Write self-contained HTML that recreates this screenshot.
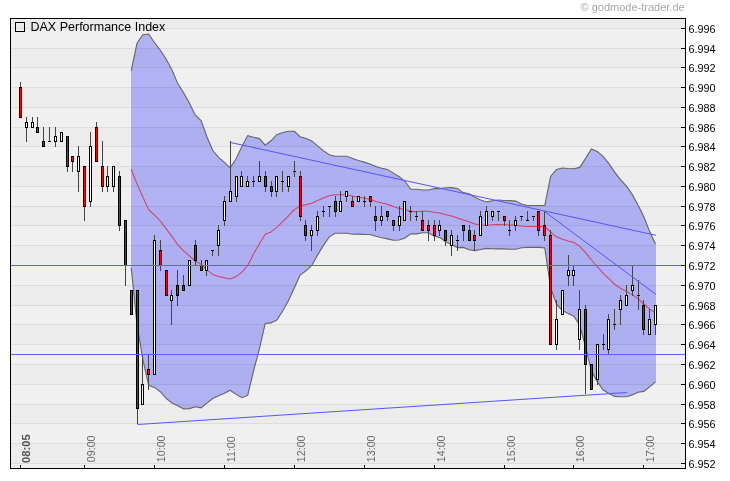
<!DOCTYPE html><html><head><meta charset="utf-8"><title>DAX Performance Index</title>
<style>html,body{margin:0;padding:0;background:#fff;width:730px;height:481px;overflow:hidden}svg{display:block;will-change:transform}text{font-family:"Liberation Sans",Arial,sans-serif}.t{opacity:0.999}</style></head><body>
<svg width="730" height="481" viewBox="0 0 730 481">
<rect x="0" y="0" width="730" height="481" fill="#fff"/>
<rect x="11" y="19" width="674" height="449" fill="#f0f0f0"/>
<polygon points="131.0,70.9 137.0,43.3 142.8,34.8 148.7,34.0 154.5,42.7 160.3,50.2 166.1,59.0 172.0,70.1 177.8,83.6 183.6,92.8 189.4,103.1 195.3,115.2 201.1,120.6 206.9,136.7 212.7,150.3 218.6,157.4 224.4,162.3 230.2,167.9 236.1,158.8 241.9,146.6 247.7,135.6 253.5,137.2 259.4,138.6 265.2,145.2 271.0,140.8 276.8,134.7 282.7,132.5 288.5,131.2 294.3,131.3 300.1,136.7 306.0,138.6 311.8,140.9 317.6,145.9 323.4,150.6 329.3,154.7 335.1,156.2 340.9,156.2 346.7,156.2 352.6,158.4 358.4,160.5 364.2,162.1 370.0,163.9 375.9,166.6 381.7,168.2 387.5,169.4 393.3,173.1 399.2,176.7 405.0,181.3 410.8,189.3 416.6,189.3 422.5,190.0 428.3,190.0 434.1,188.5 440.0,188.6 445.8,187.8 451.6,187.6 457.4,188.5 463.3,192.6 469.1,193.7 474.9,197.3 480.7,199.9 486.6,201.9 492.4,200.7 498.2,200.0 504.0,200.5 509.9,200.6 515.7,201.1 521.5,204.0 527.3,205.5 533.2,205.5 539.0,205.5 544.8,205.4 550.6,176.5 556.5,169.4 562.3,168.0 568.1,168.5 573.9,168.8 579.8,167.4 585.6,158.4 591.4,148.9 597.2,151.5 603.1,156.3 608.9,163.7 614.7,172.1 620.5,179.7 626.4,186.2 632.2,194.4 638.0,205.0 643.8,216.7 649.7,231.6 656.0,244.0 656.0,381.8 649.7,386.8 643.8,391.4 638.0,392.2 632.2,394.9 626.4,396.7 620.5,396.7 614.7,396.4 608.9,393.5 603.1,390.0 597.2,381.4 591.4,371.1 585.6,346.8 579.8,325.5 573.9,316.2 568.1,313.6 562.3,310.6 556.5,304.2 550.6,287.8 544.8,247.9 539.0,247.4 533.2,247.4 527.3,247.4 521.5,247.8 515.7,249.3 509.9,249.3 504.0,248.9 498.2,248.9 492.4,248.7 486.6,248.4 480.7,249.5 474.9,250.6 469.1,249.7 463.3,247.4 457.4,247.6 451.6,244.5 445.8,241.9 440.0,237.6 434.1,236.1 428.3,232.7 422.5,232.7 416.6,233.9 410.8,233.9 405.0,237.9 399.2,240.0 393.3,240.2 387.5,238.9 381.7,237.7 375.9,236.3 370.0,234.5 364.2,234.4 358.4,234.1 352.6,234.2 346.7,233.3 340.9,233.3 335.1,233.3 329.3,236.9 323.4,245.4 317.6,255.0 311.8,265.4 306.0,270.8 300.1,275.1 294.3,288.0 288.5,300.4 282.7,311.0 276.8,320.1 271.0,322.9 265.2,323.5 259.4,348.8 253.5,371.0 247.7,395.4 241.9,397.7 236.1,394.4 230.2,390.2 224.4,393.3 218.6,395.8 212.7,398.5 206.9,403.1 201.1,407.9 195.3,406.8 189.4,408.6 183.6,409.0 177.8,405.8 172.0,403.1 166.1,398.3 160.3,391.7 154.5,387.4 148.7,385.3 142.8,359.3 137.0,324.5 131.0,267.7" fill="#b0b2f4" stroke="none"/>
<polyline points="131.2,70.9 137.0,43.3 142.8,34.8 148.7,34.0 154.5,42.7 160.3,50.2 166.1,59.0 172.0,70.1 177.8,83.6 183.6,92.8 189.4,103.1 195.3,115.2 201.1,120.6 206.9,136.7 212.7,150.3 218.6,157.4 224.4,162.3 230.2,167.9 236.1,158.8 241.9,146.6 247.7,135.6 253.5,137.2 259.4,138.6 265.2,145.2 271.0,140.8 276.8,134.7 282.7,132.5 288.5,131.2 294.3,131.3 300.1,136.7 306.0,138.6 311.8,140.9 317.6,145.9 323.4,150.6 329.3,154.7 335.1,156.2 340.9,156.2 346.7,156.2 352.6,158.4 358.4,160.5 364.2,162.1 370.0,163.9 375.9,166.6 381.7,168.2 387.5,169.4 393.3,173.1 399.2,176.7 405.0,181.3 410.8,189.3 416.6,189.3 422.5,190.0 428.3,190.0 434.1,188.5 440.0,188.6 445.8,187.8 451.6,187.6 457.4,188.5 463.3,192.6 469.1,193.7 474.9,197.3 480.7,199.9 486.6,201.9 492.4,200.7 498.2,200.0 504.0,200.5 509.9,200.6 515.7,201.1 521.5,204.0 527.3,205.5 533.2,205.5 539.0,205.5 544.8,205.4 550.6,176.5 556.5,169.4 562.3,168.0 568.1,168.5 573.9,168.8 579.8,167.4 585.6,158.4 591.4,148.9 597.2,151.5 603.1,156.3 608.9,163.7 614.7,172.1 620.5,179.7 626.4,186.2 632.2,194.4 638.0,205.0 643.8,216.7 649.7,231.6 655.5,244.0" fill="none" stroke="#666666" stroke-width="1.1"/>
<polyline points="131.2,267.7 137.0,324.5 142.8,359.3 148.7,385.3 154.5,387.4 160.3,391.7 166.1,398.3 172.0,403.1 177.8,405.8 183.6,409.0 189.4,408.6 195.3,406.8 201.1,407.9 206.9,403.1 212.7,398.5 218.6,395.8 224.4,393.3 230.2,390.2 236.1,394.4 241.9,397.7 247.7,395.4 253.5,371.0 259.4,348.8 265.2,323.5 271.0,322.9 276.8,320.1 282.7,311.0 288.5,300.4 294.3,288.0 300.1,275.1 306.0,270.8 311.8,265.4 317.6,255.0 323.4,245.4 329.3,236.9 335.1,233.3 340.9,233.3 346.7,233.3 352.6,234.2 358.4,234.1 364.2,234.4 370.0,234.5 375.9,236.3 381.7,237.7 387.5,238.9 393.3,240.2 399.2,240.0 405.0,237.9 410.8,233.9 416.6,233.9 422.5,232.7 428.3,232.7 434.1,236.1 440.0,237.6 445.8,241.9 451.6,244.5 457.4,247.6 463.3,247.4 469.1,249.7 474.9,250.6 480.7,249.5 486.6,248.4 492.4,248.7 498.2,248.9 504.0,248.9 509.9,249.3 515.7,249.3 521.5,247.8 527.3,247.4 533.2,247.4 539.0,247.4 544.8,247.9 550.6,287.8 556.5,304.2 562.3,310.6 568.1,313.6 573.9,316.2 579.8,325.5 585.6,346.8 591.4,371.1 597.2,381.4 603.1,390.0 608.9,393.5 614.7,396.4 620.5,396.7 626.4,396.7 632.2,394.9 638.0,392.2 643.8,391.4 649.7,386.8 655.5,381.8" fill="none" stroke="#666666" stroke-width="1.1"/>
<g shape-rendering="crispEdges" fill="rgba(0,0,0,0.0167)">
<rect x="11" y="19" width="674" height="9"/>
<rect x="11" y="49" width="674" height="18"/>
<rect x="11" y="88" width="674" height="19"/>
<rect x="11" y="128" width="674" height="18"/>
<rect x="11" y="167" width="674" height="19"/>
<rect x="11" y="207" width="674" height="18"/>
<rect x="11" y="246" width="674" height="19"/>
<rect x="11" y="286" width="674" height="19"/>
<rect x="11" y="325" width="674" height="19"/>
<rect x="11" y="365" width="674" height="19"/>
<rect x="11" y="405" width="674" height="18"/>
<rect x="11" y="444" width="674" height="19"/>
</g>
<g shape-rendering="crispEdges" fill="rgba(0,0,0,0.0770)">
<rect x="11" y="28" width="670" height="1"/>
<rect x="11" y="48" width="670" height="1"/>
<rect x="11" y="67" width="670" height="1"/>
<rect x="11" y="87" width="670" height="1"/>
<rect x="11" y="107" width="670" height="1"/>
<rect x="11" y="127" width="670" height="1"/>
<rect x="11" y="146" width="670" height="1"/>
<rect x="11" y="166" width="670" height="1"/>
<rect x="11" y="186" width="670" height="1"/>
<rect x="11" y="206" width="670" height="1"/>
<rect x="11" y="225" width="670" height="1"/>
<rect x="11" y="245" width="670" height="1"/>
<rect x="11" y="265" width="670" height="1"/>
<rect x="11" y="285" width="670" height="1"/>
<rect x="11" y="305" width="670" height="1"/>
<rect x="11" y="324" width="670" height="1"/>
<rect x="11" y="344" width="670" height="1"/>
<rect x="11" y="364" width="670" height="1"/>
<rect x="11" y="384" width="670" height="1"/>
<rect x="11" y="404" width="670" height="1"/>
<rect x="11" y="423" width="670" height="1"/>
<rect x="11" y="443" width="670" height="1"/>
<rect x="11" y="463" width="670" height="1"/>
</g>
<polyline points="131.2,169.3 137.0,183.9 142.8,197.0 148.7,209.6 154.5,215.1 160.3,221.0 166.1,228.6 172.0,236.6 177.8,244.7 183.6,250.9 189.4,255.8 195.3,261.0 201.1,264.2 206.9,269.9 212.7,274.4 218.6,276.6 224.4,277.8 230.2,279.1 236.1,276.6 241.9,272.1 247.7,265.5 253.5,254.1 259.4,243.7 265.2,234.3 271.0,231.9 276.8,227.4 282.7,221.7 288.5,215.8 294.3,209.6 300.1,205.9 306.0,204.7 311.8,203.2 317.6,200.5 323.4,198.0 329.3,195.8 335.1,194.8 340.9,194.8 346.7,194.8 352.6,196.3 358.4,197.3 364.2,198.2 370.0,199.2 375.9,201.5 381.7,202.9 387.5,204.2 393.3,206.6 399.2,208.4 405.0,209.6 410.8,211.6 416.6,211.6 422.5,211.3 428.3,211.3 434.1,212.3 440.0,213.1 445.8,214.8 451.6,216.0 457.4,218.0 463.3,220.0 469.1,221.7 474.9,223.9 480.7,224.7 486.6,225.2 492.4,224.7 498.2,224.4 504.0,224.7 509.9,224.9 515.7,225.2 521.5,225.9 527.3,226.4 533.2,226.4 539.0,226.4 544.8,226.7 550.6,232.1 556.5,236.8 562.3,239.3 568.1,241.0 573.9,242.5 579.8,246.4 585.6,252.6 591.4,260.0 597.2,266.5 603.1,273.1 608.9,278.6 614.7,284.3 620.5,288.2 626.4,291.4 632.2,294.6 638.0,298.6 643.8,304.0 649.7,309.2 655.5,312.9" fill="none" stroke="#d43f60" stroke-width="1.05" stroke-linejoin="round"/>
<g shape-rendering="crispEdges">
<rect x="20" y="82" width="1" height="36" fill="#444444"/>
<rect x="19" y="87" width="3" height="31" fill="#000"/>
<rect x="20" y="88" width="1" height="29" fill="#ff0000"/>
<rect x="26" y="117" width="1" height="25" fill="#444444"/>
<rect x="25" y="122" width="3" height="6" fill="#000"/>
<rect x="26" y="123" width="1" height="4" fill="#fff"/>
<rect x="32" y="117" width="1" height="11" fill="#444444"/>
<rect x="31" y="122" width="3" height="6" fill="#000"/>
<rect x="32" y="123" width="1" height="4" fill="#fff"/>
<rect x="37" y="117" width="1" height="16" fill="#444444"/>
<rect x="36" y="127" width="3" height="6" fill="#000"/>
<rect x="37" y="128" width="1" height="4" fill="#ff0000"/>
<rect x="43" y="127" width="1" height="20" fill="#444444"/>
<rect x="42" y="141" width="3" height="6" fill="#000"/>
<rect x="43" y="142" width="1" height="4" fill="#ff0000"/>
<rect x="49" y="127" width="1" height="15" fill="#444444"/>
<rect x="48" y="141" width="3" height="1" fill="#000"/>
<rect x="55" y="127" width="1" height="20" fill="#444444"/>
<rect x="54" y="136" width="3" height="6" fill="#000"/>
<rect x="55" y="137" width="1" height="4" fill="#fff"/>
<rect x="61" y="132" width="1" height="10" fill="#444444"/>
<rect x="60" y="132" width="3" height="10" fill="#000"/>
<rect x="61" y="133" width="1" height="8" fill="#fff"/>
<rect x="67" y="136" width="1" height="36" fill="#444444"/>
<rect x="66" y="136" width="3" height="31" fill="#000"/>
<rect x="67" y="137" width="1" height="29" fill="#ff0000"/>
<rect x="72" y="156" width="1" height="16" fill="#444444"/>
<rect x="71" y="156" width="3" height="6" fill="#000"/>
<rect x="72" y="157" width="1" height="4" fill="#ff0000"/>
<rect x="78" y="146" width="1" height="46" fill="#444444"/>
<rect x="77" y="156" width="3" height="16" fill="#000"/>
<rect x="78" y="157" width="1" height="14" fill="#fff"/>
<rect x="84" y="166" width="1" height="55" fill="#444444"/>
<rect x="83" y="166" width="3" height="41" fill="#000"/>
<rect x="84" y="167" width="1" height="39" fill="#ff0000"/>
<rect x="90" y="132" width="1" height="75" fill="#444444"/>
<rect x="89" y="146" width="3" height="56" fill="#000"/>
<rect x="90" y="147" width="1" height="54" fill="#fff"/>
<rect x="96" y="122" width="1" height="40" fill="#444444"/>
<rect x="95" y="127" width="3" height="35" fill="#000"/>
<rect x="96" y="128" width="1" height="33" fill="#ff0000"/>
<rect x="102" y="141" width="1" height="51" fill="#444444"/>
<rect x="101" y="166" width="3" height="21" fill="#000"/>
<rect x="102" y="167" width="1" height="19" fill="#ff0000"/>
<rect x="107" y="166" width="1" height="26" fill="#444444"/>
<rect x="106" y="176" width="3" height="11" fill="#000"/>
<rect x="107" y="177" width="1" height="9" fill="#fff"/>
<rect x="113" y="166" width="1" height="26" fill="#444444"/>
<rect x="112" y="166" width="3" height="21" fill="#000"/>
<rect x="113" y="167" width="1" height="19" fill="#fff"/>
<rect x="119" y="171" width="1" height="60" fill="#444444"/>
<rect x="118" y="176" width="3" height="50" fill="#000"/>
<rect x="119" y="177" width="1" height="48" fill="#ff0000"/>
<rect x="125" y="220" width="1" height="66" fill="#444444"/>
<rect x="124" y="220" width="3" height="46" fill="#000"/>
<rect x="125" y="221" width="1" height="44" fill="#ff0000"/>
<rect x="131" y="290" width="1" height="25" fill="#444444"/>
<rect x="130" y="290" width="3" height="25" fill="#000"/>
<rect x="131" y="291" width="1" height="23" fill="#ff0000"/>
<rect x="137" y="290" width="1" height="134" fill="#444444"/>
<rect x="136" y="290" width="3" height="119" fill="#000"/>
<rect x="137" y="291" width="1" height="117" fill="#ff0000"/>
<rect x="142" y="354" width="1" height="51" fill="#444444"/>
<rect x="141" y="384" width="3" height="21" fill="#000"/>
<rect x="142" y="385" width="1" height="19" fill="#fff"/>
<rect x="148" y="354" width="1" height="36" fill="#444444"/>
<rect x="147" y="369" width="3" height="6" fill="#000"/>
<rect x="148" y="370" width="1" height="4" fill="#ff0000"/>
<rect x="154" y="235" width="1" height="140" fill="#444444"/>
<rect x="153" y="240" width="3" height="135" fill="#000"/>
<rect x="154" y="241" width="1" height="133" fill="#fff"/>
<rect x="160" y="240" width="1" height="31" fill="#444444"/>
<rect x="159" y="250" width="3" height="16" fill="#000"/>
<rect x="160" y="251" width="1" height="14" fill="#ff0000"/>
<rect x="166" y="270" width="1" height="26" fill="#444444"/>
<rect x="165" y="270" width="3" height="26" fill="#000"/>
<rect x="166" y="271" width="1" height="24" fill="#ff0000"/>
<rect x="171" y="290" width="1" height="35" fill="#444444"/>
<rect x="170" y="295" width="3" height="6" fill="#000"/>
<rect x="171" y="296" width="1" height="4" fill="#fff"/>
<rect x="177" y="270" width="1" height="36" fill="#444444"/>
<rect x="176" y="285" width="3" height="11" fill="#000"/>
<rect x="177" y="286" width="1" height="9" fill="#ff0000"/>
<rect x="183" y="275" width="1" height="16" fill="#444444"/>
<rect x="182" y="285" width="3" height="6" fill="#000"/>
<rect x="183" y="286" width="1" height="4" fill="#ff0000"/>
<rect x="189" y="260" width="1" height="26" fill="#444444"/>
<rect x="188" y="260" width="3" height="26" fill="#000"/>
<rect x="189" y="261" width="1" height="24" fill="#fff"/>
<rect x="195" y="240" width="1" height="26" fill="#444444"/>
<rect x="194" y="245" width="3" height="16" fill="#000"/>
<rect x="195" y="246" width="1" height="14" fill="#ff0000"/>
<rect x="201" y="260" width="1" height="11" fill="#444444"/>
<rect x="200" y="265" width="3" height="6" fill="#000"/>
<rect x="201" y="266" width="1" height="4" fill="#ff0000"/>
<rect x="206" y="260" width="1" height="16" fill="#444444"/>
<rect x="205" y="260" width="3" height="11" fill="#000"/>
<rect x="206" y="261" width="1" height="9" fill="#fff"/>
<rect x="212" y="250" width="1" height="6" fill="#444444"/>
<rect x="211" y="250" width="3" height="1" fill="#000"/>
<rect x="218" y="225" width="1" height="31" fill="#444444"/>
<rect x="217" y="230" width="3" height="16" fill="#000"/>
<rect x="218" y="231" width="1" height="14" fill="#fff"/>
<rect x="224" y="196" width="1" height="30" fill="#444444"/>
<rect x="223" y="201" width="3" height="20" fill="#000"/>
<rect x="224" y="202" width="1" height="18" fill="#fff"/>
<rect x="230" y="141" width="1" height="61" fill="#444444"/>
<rect x="229" y="191" width="3" height="11" fill="#000"/>
<rect x="230" y="192" width="1" height="9" fill="#fff"/>
<rect x="236" y="176" width="1" height="26" fill="#444444"/>
<rect x="235" y="176" width="3" height="21" fill="#000"/>
<rect x="236" y="177" width="1" height="19" fill="#fff"/>
<rect x="241" y="171" width="1" height="16" fill="#444444"/>
<rect x="240" y="176" width="3" height="11" fill="#000"/>
<rect x="241" y="177" width="1" height="9" fill="#fff"/>
<rect x="247" y="176" width="1" height="11" fill="#444444"/>
<rect x="246" y="181" width="3" height="6" fill="#000"/>
<rect x="247" y="182" width="1" height="4" fill="#fff"/>
<rect x="253" y="176" width="1" height="11" fill="#444444"/>
<rect x="252" y="181" width="3" height="1" fill="#000"/>
<rect x="259" y="161" width="1" height="21" fill="#444444"/>
<rect x="258" y="176" width="3" height="6" fill="#000"/>
<rect x="259" y="177" width="1" height="4" fill="#fff"/>
<rect x="265" y="171" width="1" height="21" fill="#444444"/>
<rect x="264" y="176" width="3" height="11" fill="#000"/>
<rect x="265" y="177" width="1" height="9" fill="#ff0000"/>
<rect x="271" y="181" width="1" height="16" fill="#444444"/>
<rect x="270" y="186" width="3" height="6" fill="#000"/>
<rect x="271" y="187" width="1" height="4" fill="#ff0000"/>
<rect x="276" y="176" width="1" height="21" fill="#444444"/>
<rect x="275" y="176" width="3" height="16" fill="#000"/>
<rect x="276" y="177" width="1" height="14" fill="#fff"/>
<rect x="282" y="171" width="1" height="21" fill="#444444"/>
<rect x="281" y="181" width="3" height="1" fill="#000"/>
<rect x="288" y="176" width="1" height="16" fill="#444444"/>
<rect x="287" y="176" width="3" height="11" fill="#000"/>
<rect x="288" y="177" width="1" height="9" fill="#fff"/>
<rect x="294" y="161" width="1" height="16" fill="#444444"/>
<rect x="293" y="171" width="3" height="1" fill="#000"/>
<rect x="300" y="171" width="1" height="50" fill="#444444"/>
<rect x="299" y="176" width="3" height="41" fill="#000"/>
<rect x="300" y="177" width="1" height="39" fill="#ff0000"/>
<rect x="305" y="220" width="1" height="21" fill="#444444"/>
<rect x="304" y="225" width="3" height="11" fill="#000"/>
<rect x="305" y="226" width="1" height="9" fill="#ff0000"/>
<rect x="311" y="225" width="1" height="26" fill="#444444"/>
<rect x="310" y="230" width="3" height="6" fill="#000"/>
<rect x="311" y="231" width="1" height="4" fill="#fff"/>
<rect x="317" y="211" width="1" height="25" fill="#444444"/>
<rect x="316" y="216" width="3" height="15" fill="#000"/>
<rect x="317" y="217" width="1" height="13" fill="#fff"/>
<rect x="323" y="206" width="1" height="11" fill="#444444"/>
<rect x="322" y="211" width="3" height="1" fill="#000"/>
<rect x="329" y="206" width="1" height="11" fill="#444444"/>
<rect x="328" y="206" width="3" height="1" fill="#000"/>
<rect x="335" y="196" width="1" height="21" fill="#444444"/>
<rect x="334" y="201" width="3" height="11" fill="#000"/>
<rect x="335" y="202" width="1" height="9" fill="#ff0000"/>
<rect x="340" y="191" width="1" height="21" fill="#444444"/>
<rect x="339" y="201" width="3" height="11" fill="#000"/>
<rect x="340" y="202" width="1" height="9" fill="#fff"/>
<rect x="346" y="191" width="1" height="11" fill="#444444"/>
<rect x="345" y="191" width="3" height="6" fill="#000"/>
<rect x="346" y="192" width="1" height="4" fill="#fff"/>
<rect x="352" y="196" width="1" height="11" fill="#444444"/>
<rect x="351" y="201" width="3" height="6" fill="#000"/>
<rect x="352" y="202" width="1" height="4" fill="#ff0000"/>
<rect x="358" y="196" width="1" height="6" fill="#444444"/>
<rect x="357" y="196" width="3" height="6" fill="#000"/>
<rect x="358" y="197" width="1" height="4" fill="#fff"/>
<rect x="364" y="196" width="1" height="11" fill="#444444"/>
<rect x="363" y="201" width="3" height="1" fill="#000"/>
<rect x="370" y="196" width="1" height="11" fill="#444444"/>
<rect x="369" y="196" width="3" height="6" fill="#000"/>
<rect x="370" y="197" width="1" height="4" fill="#ff0000"/>
<rect x="375" y="206" width="1" height="25" fill="#444444"/>
<rect x="374" y="216" width="3" height="5" fill="#000"/>
<rect x="375" y="217" width="1" height="3" fill="#ff0000"/>
<rect x="381" y="206" width="1" height="20" fill="#444444"/>
<rect x="380" y="216" width="3" height="5" fill="#000"/>
<rect x="381" y="217" width="1" height="3" fill="#fff"/>
<rect x="387" y="211" width="1" height="10" fill="#444444"/>
<rect x="386" y="211" width="3" height="6" fill="#000"/>
<rect x="387" y="212" width="1" height="4" fill="#ff0000"/>
<rect x="393" y="220" width="1" height="11" fill="#444444"/>
<rect x="392" y="220" width="3" height="6" fill="#000"/>
<rect x="393" y="221" width="1" height="4" fill="#ff0000"/>
<rect x="399" y="206" width="1" height="25" fill="#444444"/>
<rect x="398" y="216" width="3" height="10" fill="#000"/>
<rect x="399" y="217" width="1" height="8" fill="#fff"/>
<rect x="404" y="201" width="1" height="20" fill="#444444"/>
<rect x="403" y="201" width="3" height="20" fill="#000"/>
<rect x="404" y="202" width="1" height="18" fill="#fff"/>
<rect x="410" y="206" width="1" height="15" fill="#444444"/>
<rect x="409" y="211" width="3" height="1" fill="#000"/>
<rect x="416" y="211" width="1" height="10" fill="#444444"/>
<rect x="415" y="216" width="3" height="1" fill="#000"/>
<rect x="422" y="211" width="1" height="20" fill="#444444"/>
<rect x="421" y="220" width="3" height="11" fill="#000"/>
<rect x="422" y="221" width="1" height="9" fill="#ff0000"/>
<rect x="428" y="220" width="1" height="21" fill="#444444"/>
<rect x="427" y="225" width="3" height="6" fill="#000"/>
<rect x="428" y="226" width="1" height="4" fill="#ff0000"/>
<rect x="434" y="220" width="1" height="21" fill="#444444"/>
<rect x="433" y="225" width="3" height="11" fill="#000"/>
<rect x="434" y="226" width="1" height="9" fill="#ff0000"/>
<rect x="439" y="220" width="1" height="16" fill="#444444"/>
<rect x="438" y="225" width="3" height="6" fill="#000"/>
<rect x="439" y="226" width="1" height="4" fill="#fff"/>
<rect x="445" y="230" width="1" height="16" fill="#444444"/>
<rect x="444" y="230" width="3" height="11" fill="#000"/>
<rect x="445" y="231" width="1" height="9" fill="#ff0000"/>
<rect x="451" y="230" width="1" height="26" fill="#444444"/>
<rect x="450" y="235" width="3" height="11" fill="#000"/>
<rect x="451" y="236" width="1" height="9" fill="#fff"/>
<rect x="457" y="235" width="1" height="16" fill="#444444"/>
<rect x="456" y="240" width="3" height="1" fill="#000"/>
<rect x="463" y="225" width="1" height="16" fill="#444444"/>
<rect x="462" y="225" width="3" height="6" fill="#000"/>
<rect x="463" y="226" width="1" height="4" fill="#ff0000"/>
<rect x="469" y="225" width="1" height="16" fill="#444444"/>
<rect x="468" y="230" width="3" height="11" fill="#000"/>
<rect x="469" y="231" width="1" height="9" fill="#ff0000"/>
<rect x="474" y="230" width="1" height="21" fill="#444444"/>
<rect x="473" y="235" width="3" height="6" fill="#000"/>
<rect x="474" y="236" width="1" height="4" fill="#ff0000"/>
<rect x="480" y="211" width="1" height="25" fill="#444444"/>
<rect x="479" y="216" width="3" height="20" fill="#000"/>
<rect x="480" y="217" width="1" height="18" fill="#fff"/>
<rect x="486" y="206" width="1" height="20" fill="#444444"/>
<rect x="485" y="211" width="3" height="15" fill="#000"/>
<rect x="486" y="212" width="1" height="13" fill="#fff"/>
<rect x="492" y="211" width="1" height="10" fill="#444444"/>
<rect x="491" y="211" width="3" height="6" fill="#000"/>
<rect x="492" y="212" width="1" height="4" fill="#fff"/>
<rect x="498" y="211" width="1" height="10" fill="#444444"/>
<rect x="497" y="211" width="3" height="1" fill="#000"/>
<rect x="504" y="216" width="1" height="10" fill="#444444"/>
<rect x="503" y="216" width="3" height="5" fill="#000"/>
<rect x="504" y="217" width="1" height="3" fill="#ff0000"/>
<rect x="509" y="220" width="1" height="16" fill="#444444"/>
<rect x="508" y="230" width="3" height="1" fill="#000"/>
<rect x="515" y="216" width="1" height="15" fill="#444444"/>
<rect x="514" y="220" width="3" height="6" fill="#000"/>
<rect x="515" y="221" width="1" height="4" fill="#fff"/>
<rect x="521" y="216" width="1" height="5" fill="#444444"/>
<rect x="520" y="216" width="3" height="1" fill="#000"/>
<rect x="527" y="211" width="1" height="10" fill="#444444"/>
<rect x="526" y="220" width="3" height="1" fill="#000"/>
<rect x="533" y="216" width="1" height="5" fill="#444444"/>
<rect x="532" y="216" width="3" height="1" fill="#000"/>
<rect x="538" y="211" width="1" height="25" fill="#444444"/>
<rect x="537" y="211" width="3" height="20" fill="#000"/>
<rect x="538" y="212" width="1" height="18" fill="#ff0000"/>
<rect x="544" y="211" width="1" height="30" fill="#444444"/>
<rect x="543" y="225" width="3" height="11" fill="#000"/>
<rect x="544" y="226" width="1" height="9" fill="#ff0000"/>
<rect x="550" y="230" width="1" height="115" fill="#444444"/>
<rect x="549" y="235" width="3" height="110" fill="#000"/>
<rect x="550" y="236" width="1" height="108" fill="#ff0000"/>
<rect x="556" y="300" width="1" height="50" fill="#444444"/>
<rect x="555" y="319" width="3" height="26" fill="#000"/>
<rect x="556" y="320" width="1" height="24" fill="#fff"/>
<rect x="562" y="290" width="1" height="25" fill="#444444"/>
<rect x="561" y="290" width="3" height="25" fill="#000"/>
<rect x="562" y="291" width="1" height="23" fill="#fff"/>
<rect x="568" y="255" width="1" height="31" fill="#444444"/>
<rect x="567" y="270" width="3" height="6" fill="#000"/>
<rect x="568" y="271" width="1" height="4" fill="#fff"/>
<rect x="573" y="265" width="1" height="21" fill="#444444"/>
<rect x="572" y="270" width="3" height="6" fill="#000"/>
<rect x="573" y="271" width="1" height="4" fill="#fff"/>
<rect x="579" y="290" width="1" height="60" fill="#444444"/>
<rect x="578" y="309" width="3" height="31" fill="#000"/>
<rect x="579" y="310" width="1" height="29" fill="#fff"/>
<rect x="585" y="305" width="1" height="89" fill="#444444"/>
<rect x="584" y="309" width="3" height="56" fill="#000"/>
<rect x="585" y="310" width="1" height="54" fill="#ff0000"/>
<rect x="591" y="364" width="1" height="26" fill="#444444"/>
<rect x="590" y="364" width="3" height="26" fill="#000"/>
<rect x="591" y="365" width="1" height="24" fill="#ff0000"/>
<rect x="597" y="344" width="1" height="41" fill="#444444"/>
<rect x="596" y="344" width="3" height="36" fill="#000"/>
<rect x="597" y="345" width="1" height="34" fill="#fff"/>
<rect x="603" y="334" width="1" height="16" fill="#444444"/>
<rect x="602" y="344" width="3" height="1" fill="#000"/>
<rect x="608" y="314" width="1" height="41" fill="#444444"/>
<rect x="607" y="319" width="3" height="31" fill="#000"/>
<rect x="608" y="320" width="1" height="29" fill="#fff"/>
<rect x="614" y="309" width="1" height="21" fill="#444444"/>
<rect x="613" y="324" width="3" height="1" fill="#000"/>
<rect x="620" y="295" width="1" height="30" fill="#444444"/>
<rect x="619" y="300" width="3" height="10" fill="#000"/>
<rect x="620" y="301" width="1" height="8" fill="#fff"/>
<rect x="626" y="285" width="1" height="21" fill="#444444"/>
<rect x="625" y="295" width="3" height="11" fill="#000"/>
<rect x="626" y="296" width="1" height="9" fill="#fff"/>
<rect x="632" y="265" width="1" height="31" fill="#444444"/>
<rect x="631" y="285" width="3" height="6" fill="#000"/>
<rect x="632" y="286" width="1" height="4" fill="#fff"/>
<rect x="638" y="280" width="1" height="30" fill="#444444"/>
<rect x="637" y="295" width="3" height="1" fill="#000"/>
<rect x="643" y="300" width="1" height="35" fill="#444444"/>
<rect x="642" y="305" width="3" height="25" fill="#000"/>
<rect x="643" y="306" width="1" height="23" fill="#ff0000"/>
<rect x="649" y="309" width="1" height="26" fill="#444444"/>
<rect x="648" y="319" width="3" height="16" fill="#000"/>
<rect x="649" y="320" width="1" height="14" fill="#fff"/>
<rect x="655" y="305" width="1" height="30" fill="#444444"/>
<rect x="654" y="305" width="3" height="20" fill="#000"/>
<rect x="655" y="306" width="1" height="18" fill="#fff"/>
</g>
<g stroke="#5555ff" stroke-width="1.0" fill="none">
<line x1="230.5" y1="142.5" x2="656" y2="235.3"/>
<line x1="544.5" y1="211.5" x2="656" y2="294.5"/>
<line x1="137.5" y1="424.5" x2="627" y2="392.5"/>
</g>
<g shape-rendering="crispEdges" fill="#6060ff">
<rect x="11" y="265" width="674" height="1"/>
<rect x="11" y="354" width="674" height="1"/>
</g>
<g shape-rendering="crispEdges" fill="#000"><rect x="10" y="18" width="676" height="1"/><rect x="10" y="468" width="676" height="1"/><rect x="10" y="18" width="1" height="451"/><rect x="685" y="18" width="1" height="451"/></g>
<g shape-rendering="crispEdges" fill="#000">
<rect x="681" y="28" width="4" height="1"/>
<rect x="681" y="48" width="4" height="1"/>
<rect x="681" y="67" width="4" height="1"/>
<rect x="681" y="87" width="4" height="1"/>
<rect x="681" y="107" width="4" height="1"/>
<rect x="681" y="127" width="4" height="1"/>
<rect x="681" y="146" width="4" height="1"/>
<rect x="681" y="166" width="4" height="1"/>
<rect x="681" y="186" width="4" height="1"/>
<rect x="681" y="206" width="4" height="1"/>
<rect x="681" y="225" width="4" height="1"/>
<rect x="681" y="245" width="4" height="1"/>
<rect x="681" y="265" width="4" height="1"/>
<rect x="681" y="285" width="4" height="1"/>
<rect x="681" y="305" width="4" height="1"/>
<rect x="681" y="324" width="4" height="1"/>
<rect x="681" y="344" width="4" height="1"/>
<rect x="681" y="364" width="4" height="1"/>
<rect x="681" y="384" width="4" height="1"/>
<rect x="681" y="404" width="4" height="1"/>
<rect x="681" y="423" width="4" height="1"/>
<rect x="681" y="443" width="4" height="1"/>
<rect x="681" y="463" width="4" height="1"/>
</g>
<g class="t" font-size="10.85" fill="#000">
<text x="688.5" y="32.5">6.996</text>
<text x="688.5" y="52.5">6.994</text>
<text x="688.5" y="71.5">6.992</text>
<text x="688.5" y="91.5">6.990</text>
<text x="688.5" y="111.5">6.988</text>
<text x="688.5" y="131.5">6.986</text>
<text x="688.5" y="150.5">6.984</text>
<text x="688.5" y="170.5">6.982</text>
<text x="688.5" y="190.5">6.980</text>
<text x="688.5" y="210.5">6.978</text>
<text x="688.5" y="229.5">6.976</text>
<text x="688.5" y="249.5">6.974</text>
<text x="688.5" y="269.5">6.972</text>
<text x="688.5" y="289.5">6.970</text>
<text x="688.5" y="309.5">6.968</text>
<text x="688.5" y="328.5">6.966</text>
<text x="688.5" y="348.5">6.964</text>
<text x="688.5" y="368.5">6.962</text>
<text x="688.5" y="388.5">6.960</text>
<text x="688.5" y="408.5">6.958</text>
<text x="688.5" y="427.5">6.956</text>
<text x="688.5" y="447.5">6.954</text>
<text x="688.5" y="467.5">6.952</text>
</g>
<g shape-rendering="crispEdges" fill="#000">
<rect x="20" y="465" width="1" height="3"/>
<rect x="84" y="465" width="1" height="3"/>
<rect x="154" y="465" width="1" height="3"/>
<rect x="224" y="465" width="1" height="3"/>
<rect x="294" y="465" width="1" height="3"/>
<rect x="364" y="465" width="1" height="3"/>
<rect x="434" y="465" width="1" height="3"/>
<rect x="504" y="465" width="1" height="3"/>
<rect x="573" y="465" width="1" height="3"/>
<rect x="643" y="465" width="1" height="3"/>
</g>
<g class="t" font-size="10.7" fill="#666">
<text transform="translate(30.4,463.0) rotate(-90)" font-weight="bold" font-size="11.2" fill="#555">08:05</text>
<text transform="translate(95.0,462.2) rotate(-90)">09:00</text>
<text transform="translate(165.0,462.2) rotate(-90)">10:00</text>
<text transform="translate(235.0,462.2) rotate(-90)">11:00</text>
<text transform="translate(305.0,462.2) rotate(-90)">12:00</text>
<text transform="translate(375.0,462.2) rotate(-90)">13:00</text>
<text transform="translate(445.0,462.2) rotate(-90)">14:00</text>
<text transform="translate(515.0,462.2) rotate(-90)">15:00</text>
<text transform="translate(584.0,462.2) rotate(-90)">16:00</text>
<text transform="translate(654.0,462.2) rotate(-90)">17:00</text>
</g>
<rect x="15.5" y="22.5" width="9" height="9" fill="none" stroke="#000" stroke-width="1"/>
<text class="t" x="30.5" y="30.8" font-size="12.5" fill="#000">DAX Performance Index</text>
<text class="t" x="580.5" y="11" font-size="11" fill="#a8a8a8">&#169; godmode-trader.de</text>
</svg></body></html>
